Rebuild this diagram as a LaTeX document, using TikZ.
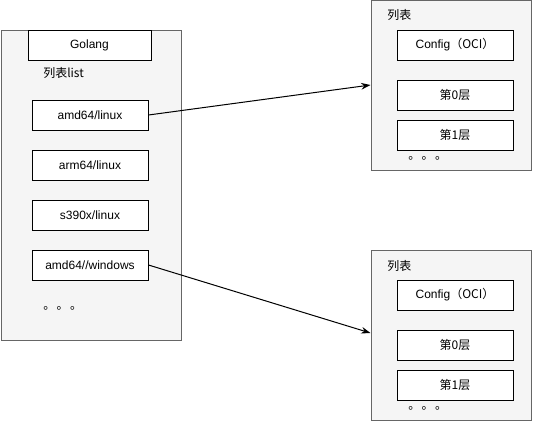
\documentclass[tikz,border=0pt]{standalone}
\usepackage{fontspec}
\setmainfont{Liberation Sans}
\newfontfamily\cjk{Noto Sans CJK SC}
\usetikzlibrary{arrows.meta}
\usetikzlibrary{calc}
\definecolor{panelfill}{HTML}{F5F5F5}
\definecolor{panelline}{HTML}{666666}
\newcommand{\moredots}{\cjk 。\kern1.1pt。\kern1.1pt。}

\begin{document}
\begin{tikzpicture}[x=0.75pt,y=-0.75pt,font=\fontsize{9}{11}\selectfont,
	panel/.style={draw=panelline,fill=panelfill,line width=0.75pt,inner sep=0pt},
	item/.style={draw=black,fill=white,line width=0.75pt,inner sep=0pt,minimum width=87pt,minimum height=22.5pt},
	tag/.style={anchor=west,inner sep=0pt}]
	\useasboundingbox (0,0) rectangle (541,421);
	\node[panel,minimum width=135pt,minimum height=232.5pt] (src) at (91,185) {};
	\node[item,minimum width=92.25pt] (go) at (89.5,45) {Golang};
	\node[tag] (srclbl) at (43,73) {\cjk 列表list};
	\node[item] (amd) at (90,115) {amd64/linux};
	\node[item] (arm) at (90,165) {arm64/linux};
	\node[item] (s390) at (90,215) {s390x/linux};
	\node[item] (win) at (90,265) {amd64//windows};
	\node[tag] (srcdots) at (43,308) {\moredots};
	
	\node[panel,minimum width=120pt,minimum height=127.5pt] (mfa) at (451,85.5) {};
	\node[tag] (mfalbl) at (387,15) {\cjk 列表};
	\node[item] (cfga) at (455,45) {Config\cjk（OCI）};
	\node[item] (la0) at (455,95) {\cjk 第0层};
	\node[item] (la1) at (455,135) {\cjk 第1层};
	\node[tag] (mfadots) at (408,158) {\moredots};
	
	\node[panel,minimum width=120pt,minimum height=127.5pt] (mfb) at (451,335) {};
	\node[tag] (mfblbl) at (387,266) {\cjk 列表};
	\node[item] (cfgb) at (455,295) {Config\cjk（OCI）};
	\node[item] (lb0) at (455,345) {\cjk 第0层};
	\node[item] (lb1) at (455,385) {\cjk 第1层};
	\node[tag] (mfbdots) at (408,408) {\moredots};
	
	\coordinate (ina) at (mfa.west |- 0,85);
	\coordinate (inb) at (mfb.west |- 0,333);
	\path[-{Stealth[length=7pt,width=5pt]},line width=0.75pt]
	(amd.east) edge (ina)
	(win.east) edge (inb)
	;
\end{tikzpicture}
\end{document}
